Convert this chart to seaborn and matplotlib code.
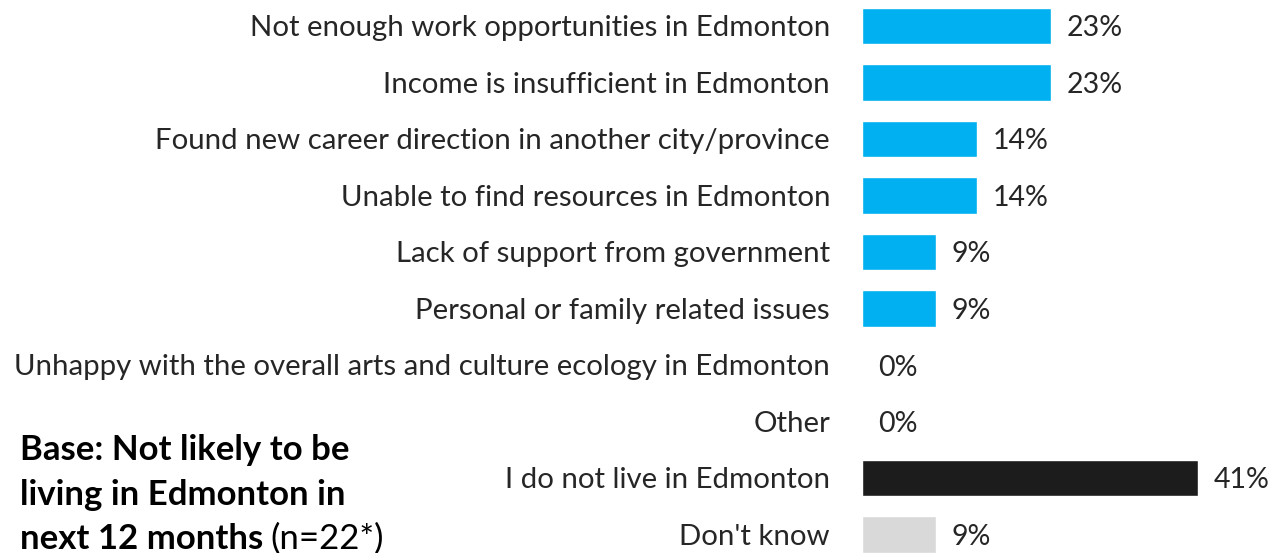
import matplotlib
matplotlib.use("Agg")
import matplotlib.pyplot as plt
import seaborn as sns
import pandas as pd

# Reasons for leaving Edmonton
categories = [
    "Not enough work opportunities in Edmonton",
    "Income is insufficient in Edmonton",
    "Found new career direction in another city/province",
    "Unable to find resources in Edmonton",
    "Lack of support from government",
    "Personal or family related issues",
    "Unhappy with the overall arts and culture ecology in Edmonton",
    "Other",
    "I do not live in Edmonton",
    "Don't know",
]
percentages = [23, 23, 14, 14, 9, 9, 0, 0, 41, 9]
bar_colors = ["#00B0F0"] * 8 + ["#1C1C1C", "#D9D9D9"]

df = pd.DataFrame({"reason": categories, "pct": percentages})

sns.set_theme(style="white")
plt.rcParams["font.family"] = ["Lato", "DejaVu Sans"]

W, H = 1271, 553
fig = plt.figure(figsize=(W / 100, H / 100), dpi=100)
row = 56.5
top_px = 26 - row / 2
bottom_px = top_px + row * len(categories)
ax = fig.add_axes([862 / W, (H - bottom_px) / H, 410 / W, (bottom_px - top_px) / H])

sns.barplot(data=df, x="pct", y="reason", hue="reason", palette=bar_colors,
            legend=False, orient="h", width=0.64, ax=ax, saturation=1)

ax.set_xlim(0, 50)
ax.set_ylim(len(categories) - 0.5, -0.5)
ax.set_xlabel("")
ax.set_ylabel("")
ax.set_xticks([])
for s in ax.spines.values():
    s.set_visible(False)

ax.tick_params(axis="y", length=0, pad=23, labelsize=21.2, labelcolor="#262626")
for lbl in ax.get_yticklabels():
    lbl.set_va("center_baseline")

for cont in ax.containers:
    texts = ax.bar_label(cont, labels=[f"{v:.0f}%" for v in cont.datavalues],
                         padding=11.5, fontsize=20.5, color="#262626")
    for t in texts:
        t.set_va("center_baseline")

base_lines = ["Base: Not likely to be", "living in Edmonton in", "next 12 months"]
baselines_px = [460, 505, 549]
last = None
for line, y in zip(base_lines, baselines_px):
    last = fig.text(20 / W, 1 - y / H, line, fontsize=25, fontweight="bold",
                    color="#000000", va="baseline", ha="left")

fig.canvas.draw()
bb = last.get_window_extent()
fig.text((bb.x1 + 7) / W, 1 - baselines_px[-1] / H, "(n=22*)", fontsize=25,
         color="#000000", va="baseline", ha="left")

fig.savefig("out.png", dpi=100)
